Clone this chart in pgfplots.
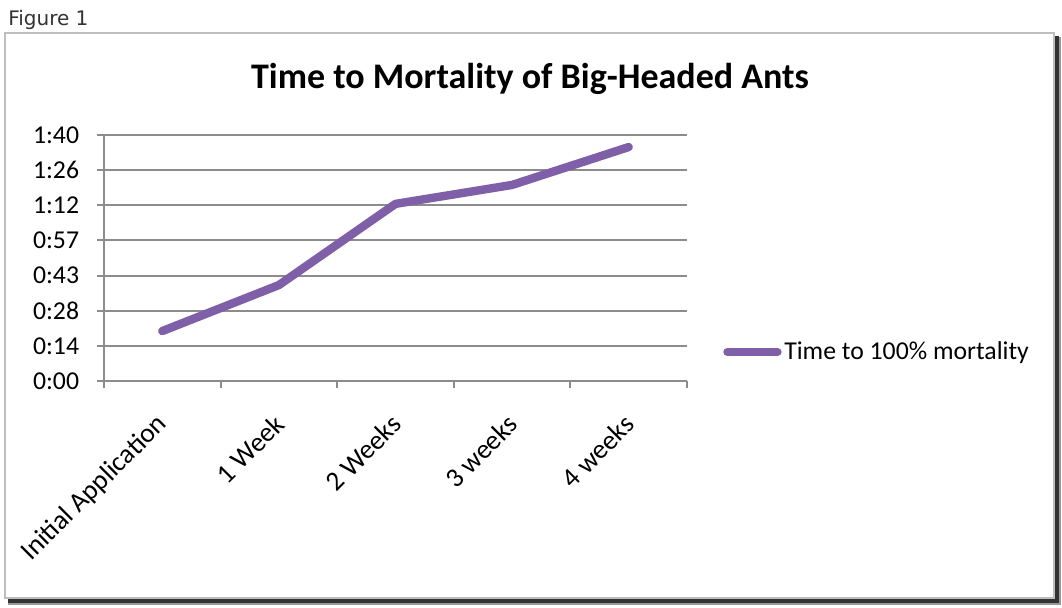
\documentclass[border=0pt]{standalone}
\usepackage{fontspec}
\setmainfont{Carlito}
\newfontfamily\figfont{DejaVu Sans}
\usepackage{pgfplots}
\pgfplotsset{compat=1.18}
\definecolor{ln}{HTML}{7F60A8}
\definecolor{gr}{HTML}{8C8C8C}
\definecolor{fr}{HTML}{BEBEBE}
\begin{document}
\begin{tikzpicture}
\begin{scope}[x=0.75pt,y=-0.75pt,shift={(0pt,455.25pt)}]
\path[use as bounding box] (0,0) rectangle (1062,607);
\fill[white] (0,0) rectangle (1062,607);
\fill[black!40] (8,37) rectangle (1061,605);
\fill[black!80] (8,36) rectangle (1059,603);
\fill[white] (5,33) rectangle (1054,598);
\draw[fr, line width=1.5pt] (5,33) rectangle (1054,598);
\node[anchor=base west, inner sep=0pt, text=black!80, font=\figfont\fontsize{15}{18}\selectfont] at (8,26) {Figure 1};
\node[anchor=base, inner sep=0pt, font=\bfseries\fontsize{27}{32}\selectfont] at (530,89) {Time to Mortality of Big-Headed Ants};
\end{scope}
\begin{axis}[
  at={(78pt,169.5pt)}, anchor=south west,
  scale only axis, width=437.25pt, height=184.5pt,
  xmin=-0.5, xmax=4.5, ymin=0, ymax=100,
  axis lines*=left,
  axis line style={gr, line width=1.5pt},
  tick style={gr, line width=1.5pt},
  tick align=outside,
  major tick length=5.5pt,
  ymajorgrids,
  grid style={gr, line width=1.5pt},
  ytick={0,14.2857,28.5714,42.8571,57.1429,71.4286,85.7143,100},
  yticklabels={0:00,0:14,0:28,0:43,0:57,1:12,1:26,1:40},
  yticklabel style={font=\fontsize{19.3}{22}\selectfont, inner sep=0pt, anchor=east, xshift=-13pt},
  xtick={-0.5,0.5,1.5,2.5,3.5,4.5},
  xticklabels={},
  extra x ticks={0,1,2,3,4},
  extra x tick labels={Initial Application,1 Week,2 Weeks,3 weeks,4 weeks},
  extra x tick style={major tick length=0pt, tick style={draw=none},
    xticklabel style={font=\fontsize{20.5}{24}\selectfont, rotate=45, anchor=east, inner sep=0pt, xshift=-20pt, yshift=-21pt}},
  legend style={at={(1.0617,0.118)}, anchor=west, draw=none, fill=none, inner sep=0pt,
    font=\fontsize{19.3}{22}\selectfont,
    /tikz/every even column/.append style={column sep=0pt}},
  legend cell align=left,
  legend image code/.code={\draw[#1, line cap=round] (3pt,0pt) -- (40.5pt,0pt);},
  clip=false,
]
\addplot[ln, line width=6.3pt, line cap=round, line join=round] coordinates {(0,20.3) (1,39) (2,72) (3,79.7) (4,95.1)};
\addlegendentry{Time to 100\% mortality}
\end{axis}
\end{tikzpicture}
\end{document}
